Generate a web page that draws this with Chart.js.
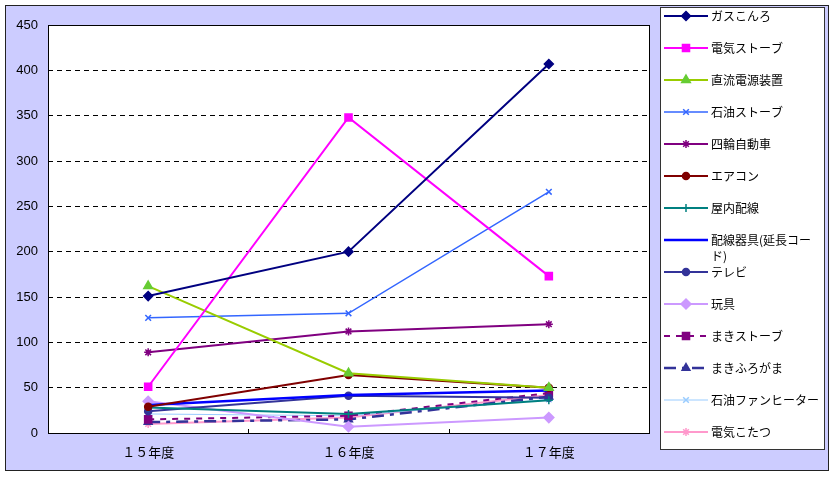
<!DOCTYPE html>
<html>
<head>
<meta charset="utf-8">
<script src="https://cdn.jsdelivr.net/npm/chart.js@4.4.0/dist/chart.umd.min.js"></script>
<style>
  html, body { margin: 0; padding: 0; background: #fff; overflow: hidden; }
  #wrap { width: 837px; height: 478px; }
  canvas { display: block; }
</style>
</head>
<body>
<div id="wrap"><canvas id="accidentChart" width="837" height="478"></canvas></div>
<script>
// 製品別 事故件数の推移（年度別）
const categories = ['１５年度', '１６年度', '１７年度'];
const yTicks = [0, 50, 100, 150, 200, 250, 300, 350, 400, 450];

const seriesNames = [
    'ガスこんろ', '電気ストーブ', '直流電源装置', '石油ストーブ', '四輪自動車',
    'エアコン', '屋内配線', '配線器具(延長コード)', 'テレビ', '玩具',
    'まきストーブ', 'まきふろがま', '石油ファンヒーター', '電気こたつ'
];

const gasStove     = [151, 200, 407];
const elecStove    = [51, 348, 173];
const dcPower      = [162, 66, 50];
const keroStove    = [127, 132, 266];
const car          = [89, 112, 120];
const aircon       = [29, 64, 50];
const houseWiring  = [28, 21, 36];
const extCord      = [31, 42, 47];
const tv           = [24, 41, 39];
const toy          = [35, 7, 17];
const woodStove    = [15, 19, 44];
const woodBath     = [12, 15, 40];
const fanHeater    = [21, 19, 37];
const kotatsu      = [10, 17, 42];

const seriesValues = [gasStove, elecStove, dcPower, keroStove, car, aircon, houseWiring,
    extCord, tv, toy, woodStove, woodBath, fanHeater, kotatsu];

// 線と点のスタイル (Excel風)
const styles = [
    { line: '#000080', point: '#000080', shape: 'rectRot', r: 4.5, w: 2 },
    { line: '#FF00FF', point: '#FF00FF', shape: 'rect', r: 5, w: 2 },
    { line: '#99CC00', point: '#66CC33', shape: 'triangle', r: 5, w: 2 },
    { line: '#3366FF', point: '#3366FF', shape: 'crossRot', r: 4, w: 1.5 },
    { line: '#800080', point: '#800080', shape: 'star', r: 4, w: 2 },
    { line: '#800000', point: '#800000', shape: 'circle', r: 3.5, w: 2 },
    { line: '#008080', point: '#008080', shape: 'cross', r: 4, w: 2 },
    { line: '#0000FF', point: '#0000FF', shape: false, r: 0, w: 2.5 },
    { line: '#333399', point: '#333399', shape: 'circle', r: 3.5, w: 2 },
    { line: '#CC99FF', point: '#CC99FF', shape: 'rectRot', r: 5, w: 2 },
    { line: '#800080', point: '#800080', shape: 'rect', r: 5, w: 2, dash: [6, 6] },
    { line: '#333399', point: '#333399', shape: 'triangle', r: 4.5, w: 2.5, dash: [12, 6, 4, 6] },
    { line: '#99CCFF', point: '#99CCFF', shape: 'crossRot', r: 4, w: 1 },
    { line: '#FF99CC', point: '#FF99CC', shape: 'star', r: 4, w: 2 }
];

const datasets = seriesNames.map((name, i) => {
    const s = styles[i];
    return {
        label: name,
        data: seriesValues[i],
        borderColor: s.line,
        backgroundColor: s.point,
        borderWidth: s.w,
        borderDash: s.dash || [],
        pointStyle: s.shape,
        pointRadius: s.r,
        pointBorderColor: s.point,
        pointBackgroundColor: s.point,
        pointBorderWidth: 1.5,
        tension: 0,
        fill: false
    };
});

const jpFont = '"Noto Sans CJK JP", "Noto Sans", sans-serif';

// 背景・枠線・凡例を描くプラグイン
const excelLook = {
    id: 'excelLook',
    beforeDraw(chart) {
        const c = chart.ctx;
        const a = chart.chartArea;
        c.save();
        c.fillStyle = '#fff';
        c.fillRect(0, 0, chart.width, chart.height);
        c.fillStyle = '#CCCCFF';
        c.fillRect(5.5, 5.5, 823, 465);
        c.strokeStyle = '#222';
        c.lineWidth = 1;
        c.strokeRect(5.5, 5.5, 823, 465);
        c.fillStyle = '#fff';
        c.fillRect(a.left, a.top, a.right - a.left, a.bottom - a.top);
        c.restore();
    },
    afterDatasetsDraw(chart) {
        const c = chart.ctx;
        const a = chart.chartArea;
        const xs = chart.scales.x;
        c.save();
        c.strokeStyle = '#000';
        c.lineWidth = 1;
        c.strokeRect(Math.round(a.left) + 0.5, Math.round(a.top) + 0.5,
            Math.round(a.right - a.left), Math.round(a.bottom - a.top));
        // カテゴリ境界の目盛り(内向き)
        for (let i = 0; i < categories.length - 1; i++) {
            const x = Math.round((xs.getPixelForValue(i) + xs.getPixelForValue(i + 1)) / 2) + 0.5;
            c.beginPath();
            c.moveTo(x, a.bottom);
            c.lineTo(x, a.bottom - 4);
            c.stroke();
        }
        c.restore();
    },
    afterDraw(chart) {
        const c = chart.ctx;
        c.save();
        // 凡例の枠
        c.fillStyle = '#fff';
        c.fillRect(660.5, 7.5, 164, 442);
        c.strokeStyle = '#333';
        c.lineWidth = 1;
        c.strokeRect(660.5, 7.5, 164, 442);
        c.font = '12px ' + jpFont;
        c.textBaseline = 'middle';
        c.textAlign = 'left';
        chart.data.datasets.forEach((ds, i) => {
            const y = 16 + i * 32;
            c.strokeStyle = ds.borderColor;
            c.lineWidth = ds.borderWidth;
            c.setLineDash(ds.borderDash || []);
            c.beginPath();
            c.moveTo(664, y);
            c.lineTo(708, y);
            c.stroke();
            c.setLineDash([]);
            if (ds.pointStyle && Chart.helpers && Chart.helpers.drawPoint) {
                c.fillStyle = ds.pointBackgroundColor;
                c.strokeStyle = ds.pointBorderColor;
                c.lineWidth = ds.pointBorderWidth;
                Chart.helpers.drawPoint(c, {
                    pointStyle: ds.pointStyle, rotation: 0,
                    radius: ds.pointRadius, borderWidth: ds.pointBorderWidth
                }, 686, y);
            }
            // 長いラベルは折り返す
            c.fillStyle = '#000';
            let line = '';
            let ly = y;
            for (const ch of ds.label) {
                if (c.measureText(line + ch).width > 110 && line) {
                    c.fillText(line, 711, ly);
                    line = ch;
                    ly += 16;
                } else {
                    line += ch;
                }
            }
            c.fillText(line, 711, ly);
        });
        c.restore();
    }
};

const ctx = document.getElementById('accidentChart').getContext('2d');
const accidentChart = new Chart(ctx, {
    type: 'line',
    data: { labels: categories, datasets: datasets },
    plugins: [excelLook],
    options: {
        responsive: false,
        animation: false,
        layout: { padding: { left: 0, top: 25, right: 188, bottom: 0 } },
        plugins: {
            legend: { display: false },
            title: { display: false },
            tooltip: { enabled: false }
        },
        scales: {
            x: {
                offset: true,
                grid: { display: false, drawTicks: false },
                border: { display: false },
                ticks: {
                    color: '#000',
                    padding: 11,
                    font: { size: 13, family: jpFont }
                },
                afterFit(scale) { scale.height = 45; }
            },
            y: {
                min: 0,
                max: 450,
                afterBuildTicks(scale) {
                    scale.ticks = yTicks.map(v => ({ value: v }));
                },
                grid: {
                    color: '#000',
                    lineWidth: 1,
                    drawTicks: false
                },
                border: { display: false, dash: [5, 4] },
                ticks: {
                    color: '#000',
                    padding: 10,
                    font: { size: 13, family: '"Liberation Sans", Arial, sans-serif' }
                },
                afterFit(scale) { scale.width = 48; }
            }
        }
    }
});
</script>
</body>
</html>
